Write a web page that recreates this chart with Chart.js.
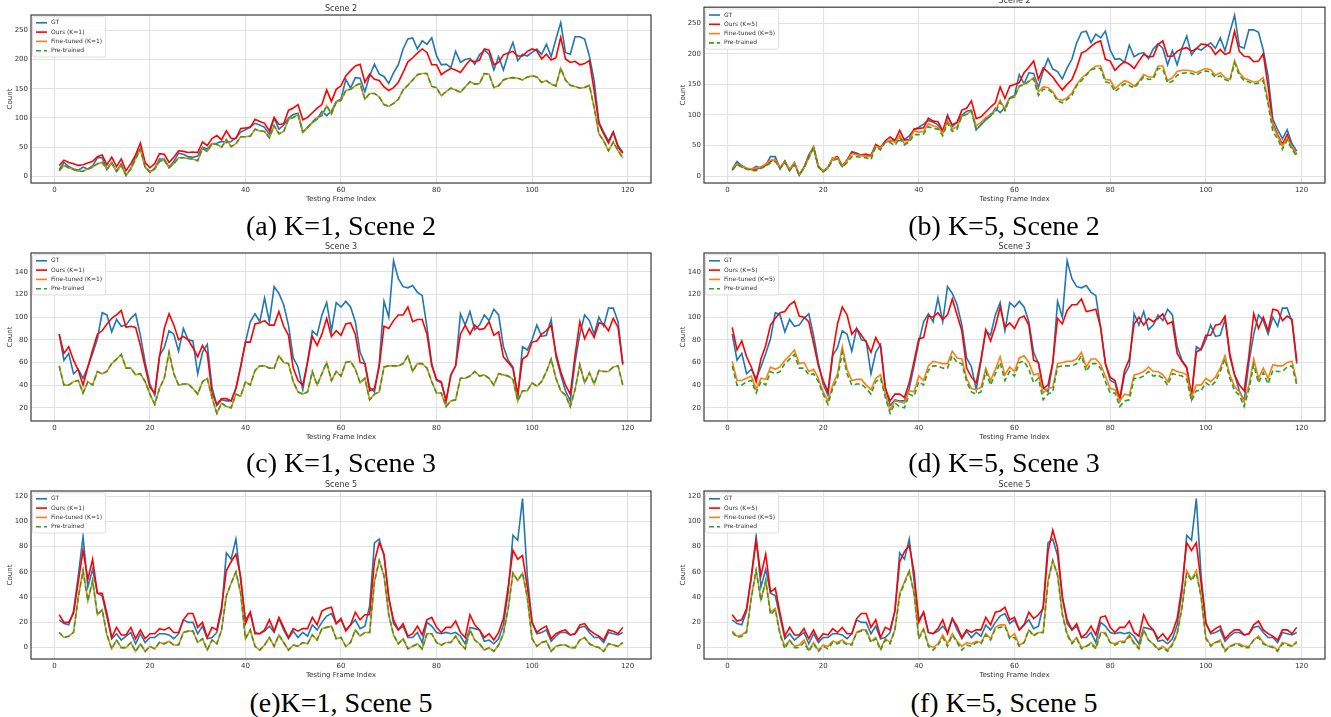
<!DOCTYPE html>
<html>
<head>
<meta charset="utf-8">
<script src="https://cdn.jsdelivr.net/npm/chart.js@4.4.1/dist/chart.umd.min.js"></script>
<style>
    body { margin: 0; width: 1331px; height: 717px; background: #fff; position: relative; overflow: hidden; }
    canvas { position: absolute; }
    .cap {
        position: absolute; transform: translate(-50%, -50%); white-space: nowrap;
        font-family: "Liberation Serif", "Times New Roman", serif; font-size: 28px; line-height: 1; color: #000;
    }
</style>
</head>
<body>
<canvas id="scene2-k1" width="660" height="205" style="left:0;top:0"></canvas>
<canvas id="scene2-k5" width="659" height="205" style="left:672px;top:0"></canvas>
<canvas id="scene3-k1" width="660" height="208" style="left:0;top:235px"></canvas>
<canvas id="scene3-k5" width="659" height="208" style="left:672px;top:235px"></canvas>
<canvas id="scene5-k1" width="660" height="206" style="left:0;top:475px"></canvas>
<canvas id="scene5-k5" width="659" height="206" style="left:672px;top:475px"></canvas>

<div class="cap" style="left:341px;top:226px">(a) K=1, Scene 2</div>
<div class="cap" style="left:1004px;top:226px">(b) K=5, Scene 2</div>
<div class="cap" style="left:341px;top:463px">(c) K=1, Scene 3</div>
<div class="cap" style="left:1004px;top:463px">(d) K=5, Scene 3</div>
<div class="cap" style="left:341px;top:703px">(e)K=1, Scene 5</div>
<div class="cap" style="left:1004px;top:703px">(f) K=5, Scene 5</div>

<script>
// testing frame index (x axis)
const frames = Array.from({ length: 119 }, (_, i) => i + 1);

// ---- Scene 2 ----
const gtScene2 = [12, 24, 17, 13, 11, 16, 13, 18, 32, 32,
    12, 24, 9, 22, 2, 14, 35, 48, 16, 8,
    14, 30, 30, 16, 26, 40, 38, 34, 33, 35,
    50, 47, 56, 57, 60, 58, 60, 66, 76, 80,
    85, 91, 88, 84, 72, 100, 81, 88, 100, 106,
    108, 76, 84, 92, 98, 111, 104, 112, 128, 132,
    166, 151, 169, 168, 145, 172, 192, 175, 171, 159,
    177, 191, 218, 235, 237, 218, 232, 226, 237, 206,
    191, 192, 186, 214, 195, 200, 202, 192, 208, 216,
    209, 182, 205, 182, 209, 229, 198, 209, 206, 212,
    218, 209, 226, 205, 235, 263, 212, 209, 239, 239,
    235, 206, 164, 93, 76, 61, 76, 53, 41];
const oursK1Scene2 = [19, 28, 24, 22, 19, 20, 23, 26, 34, 37,
    20, 33, 17, 30, 10, 22, 37, 57, 24, 15,
    22, 39, 38, 24, 33, 44, 43, 41, 42, 41,
    59, 53, 65, 70, 63, 78, 65, 65, 82, 83,
    84, 98, 94, 91, 78, 101, 89, 90, 113, 117,
    123, 97, 101, 109, 117, 123, 148, 128, 149, 155,
    172, 181, 189, 192, 161, 175, 166, 164, 153, 147,
    152, 161, 178, 196, 203, 211, 218, 212, 191, 191,
    174, 180, 185, 182, 178, 189, 199, 196, 199, 218,
    216, 191, 195, 208, 211, 214, 206, 206, 214, 218,
    215, 201, 209, 199, 203, 238, 201, 195, 197, 191,
    193, 198, 147, 90, 73, 57, 76, 50, 40];
const fineTunedK1Scene2 = [10, 19, 15, 12, 9, 9, 13, 16, 22, 24,
    13, 23, 9, 19, 2, 13, 30, 47, 16, 7,
    13, 26, 28, 15, 22, 32, 32, 31, 30, 27,
    48, 43, 56, 55, 50, 63, 51, 56, 68, 68,
    69, 81, 78, 77, 66, 87, 73, 77, 98, 101,
    106, 76, 84, 93, 101, 104, 121, 107, 127, 130,
    147, 149, 155, 159, 132, 142, 142, 136, 123, 120,
    125, 132, 148, 156, 165, 174, 176, 176, 154, 152,
    138, 145, 151, 148, 144, 153, 162, 158, 159, 176,
    175, 152, 155, 165, 168, 169, 168, 165, 170, 172,
    170, 161, 164, 158, 155, 185, 165, 156, 154, 151,
    152, 156, 118, 73, 61, 44, 59, 44, 32];
const preTrainedScene2 = [10, 19, 15, 12, 9, 9, 13, 16, 22, 24,
    13, 23, 9, 19, 2, 13, 30, 47, 16, 7,
    13, 26, 28, 15, 22, 32, 32, 31, 30, 27,
    48, 43, 56, 55, 50, 63, 51, 56, 68, 68,
    69, 81, 78, 77, 66, 87, 73, 77, 98, 101,
    106, 76, 84, 93, 101, 104, 121, 107, 127, 130,
    147, 149, 155, 159, 132, 142, 142, 136, 123, 120,
    125, 132, 148, 156, 165, 174, 176, 176, 154, 152,
    138, 145, 151, 148, 144, 153, 162, 158, 159, 176,
    175, 152, 155, 165, 168, 169, 168, 165, 170, 172,
    170, 161, 164, 158, 155, 185, 165, 156, 154, 151,
    152, 156, 118, 73, 61, 44, 59, 44, 32];
const oursK5Scene2 = [10, 20, 16, 12, 11, 11, 15, 18, 24, 28,
    13, 25, 10, 22, 2, 15, 32, 47, 15, 8,
    14, 30, 32, 17, 26, 39, 36, 35, 36, 33,
    52, 47, 58, 64, 58, 75, 59, 60, 77, 78,
    79, 95, 90, 89, 74, 98, 84, 88, 108, 111,
    123, 94, 97, 105, 113, 120, 146, 127, 147, 150,
    153, 169, 178, 188, 158, 177, 170, 162, 151, 141,
    150, 158, 177, 201, 205, 212, 218, 221, 191, 188,
    173, 181, 187, 183, 176, 188, 199, 195, 196, 215,
    221, 196, 196, 204, 208, 210, 204, 208, 216, 215,
    211, 199, 207, 199, 202, 237, 204, 196, 195, 187,
    188, 200, 147, 85, 68, 52, 68, 47, 36];
const fineTunedK5Scene2 = [13, 20, 16, 13, 12, 13, 15, 20, 26, 27,
    14, 24, 12, 22, 3, 14, 30, 48, 17, 9,
    14, 30, 30, 17, 25, 37, 35, 34, 33, 32,
    49, 46, 55, 59, 55, 67, 53, 59, 74, 72,
    73, 86, 82, 80, 70, 90, 77, 81, 98, 101,
    107, 82, 88, 96, 101, 107, 124, 109, 128, 129,
    147, 151, 155, 161, 138, 146, 145, 138, 126, 124,
    128, 136, 150, 160, 167, 174, 180, 180, 158, 157,
    143, 150, 156, 153, 147, 155, 166, 162, 162, 180,
    180, 156, 161, 171, 173, 173, 172, 169, 173, 176,
    174, 165, 169, 161, 158, 189, 169, 160, 157, 154,
    155, 161, 123, 82, 66, 49, 63, 47, 35];

// ---- Scene 3 ----
const gtScene3 = [85, 62, 68, 50, 54, 46, 56, 68, 81, 104,
    102, 87, 98, 92, 93, 99, 103, 84, 60, 41,
    31, 66, 73, 88, 85, 70, 90, 80, 79, 50,
    69, 76, 38, 22, 27, 26, 26, 37, 57, 78,
    96, 103, 96, 117, 96, 127, 121, 111, 93, 64,
    56, 36, 61, 88, 84, 102, 113, 88, 113, 109,
    114, 109, 96, 69, 59, 38, 34, 59, 114, 100,
    150, 134, 127, 126, 128, 122, 119, 91, 59, 44,
    42, 26, 49, 57, 103, 93, 105, 89, 93, 102,
    97, 107, 102, 74, 62, 56, 29, 74, 71, 80,
    93, 83, 84, 98, 65, 49, 35, 26, 60, 85,
    102, 97, 85, 100, 92, 108, 108, 96, 59];
const oursK1Scene3 = [85, 68, 74, 62, 53, 40, 56, 71, 85, 88,
    94, 99, 102, 106, 91, 92, 91, 75, 56, 38,
    33, 65, 90, 103, 93, 80, 83, 80, 73, 65,
    75, 68, 33, 23, 28, 28, 26, 37, 56, 78,
    78, 94, 95, 97, 93, 93, 105, 92, 84, 55,
    44, 40, 60, 83, 75, 85, 99, 83, 88, 84,
    94, 95, 85, 60, 59, 35, 37, 56, 92, 90,
    97, 102, 102, 109, 96, 98, 98, 85, 57, 45,
    43, 26, 49, 57, 85, 93, 85, 93, 89, 90,
    96, 84, 87, 65, 60, 55, 32, 63, 66, 78,
    79, 85, 88, 93, 68, 52, 40, 32, 66, 96,
    81, 90, 82, 95, 94, 88, 99, 91, 58];
const fineTunedK1Scene3 = [57, 40, 40, 43, 44, 33, 43, 40, 52, 50,
    52, 59, 63, 67, 55, 55, 49, 50, 43, 32,
    23, 37, 46, 69, 50, 40, 41, 41, 37, 32,
    43, 46, 29, 15, 24, 21, 20, 32, 30, 43,
    40, 53, 57, 57, 55, 55, 66, 60, 59, 43,
    34, 32, 34, 52, 40, 50, 60, 44, 52, 48,
    60, 61, 54, 42, 46, 27, 32, 34, 56, 57,
    57, 57, 59, 66, 52, 59, 59, 55, 43, 33,
    33, 21, 26, 27, 46, 46, 48, 52, 48, 49,
    46, 40, 50, 49, 48, 45, 26, 35, 35, 42,
    39, 43, 52, 63, 46, 35, 31, 21, 36, 58,
    42, 51, 41, 53, 52, 52, 56, 57, 40];
const preTrainedScene3 = [57, 40, 40, 43, 44, 33, 43, 40, 52, 50,
    52, 59, 63, 67, 55, 55, 49, 50, 43, 32,
    23, 37, 46, 69, 50, 40, 41, 41, 37, 32,
    43, 46, 29, 15, 24, 21, 20, 32, 30, 43,
    40, 53, 57, 57, 55, 55, 66, 60, 59, 43,
    34, 32, 34, 52, 40, 50, 60, 44, 52, 48,
    60, 61, 54, 42, 46, 27, 32, 34, 56, 57,
    57, 57, 59, 66, 52, 59, 59, 55, 43, 33,
    33, 21, 26, 27, 46, 46, 48, 52, 48, 49,
    46, 40, 50, 49, 48, 45, 26, 35, 35, 42,
    39, 43, 52, 63, 46, 35, 31, 21, 36, 58,
    42, 51, 41, 53, 52, 52, 56, 57, 40];
const oursK5Scene3 = [91, 71, 79, 65, 56, 43, 63, 75, 93, 99,
    104, 105, 111, 114, 101, 100, 96, 77, 57, 44,
    34, 68, 94, 109, 102, 85, 90, 84, 78, 69,
    82, 74, 37, 26, 32, 32, 29, 42, 61, 81,
    82, 101, 100, 104, 98, 102, 116, 102, 88, 55,
    47, 42, 63, 89, 79, 92, 109, 91, 95, 90,
    99, 101, 93, 62, 60, 37, 40, 60, 99, 94,
    106, 111, 111, 116, 105, 106, 107, 91, 59, 47,
    44, 28, 53, 63, 94, 100, 93, 99, 96, 99,
    103, 94, 96, 68, 61, 55, 31, 69, 72, 84,
    84, 93, 94, 101, 68, 49, 40, 35, 66, 103,
    90, 100, 88, 107, 106, 97, 101, 98, 61];
const fineTunedK5Scene3 = [61, 44, 44, 46, 48, 36, 46, 45, 56, 54,
    56, 62, 66, 71, 59, 60, 52, 54, 46, 34,
    26, 40, 50, 74, 54, 44, 45, 45, 40, 36,
    46, 49, 32, 18, 26, 25, 24, 35, 34, 48,
    44, 57, 61, 60, 59, 59, 70, 64, 63, 46,
    37, 36, 38, 55, 44, 54, 65, 49, 56, 52,
    64, 66, 60, 49, 50, 33, 37, 38, 59, 60,
    61, 61, 63, 69, 56, 63, 63, 58, 48, 37,
    36, 26, 32, 31, 49, 50, 52, 56, 52, 52,
    49, 43, 54, 52, 51, 49, 29, 40, 40, 46,
    43, 47, 55, 66, 49, 39, 34, 25, 40, 63,
    46, 55, 46, 58, 57, 57, 60, 61, 43];

// ---- Scene 5 ----
const gtScene5 = [22, 19, 18, 29, 57, 88, 48, 62, 43, 41,
    24, 7, 11, 6, 9, 12, 3, 11, 4, 8,
    8, 11, 11, 10, 7, 11, 22, 20, 20, 11,
    17, 7, 8, 12, 29, 75, 70, 86, 53, 22,
    28, 12, 11, 13, 17, 12, 23, 14, 7, 13,
    8, 12, 9, 18, 14, 20, 25, 27, 19, 22,
    14, 18, 22, 15, 17, 33, 83, 86, 73, 40,
    19, 14, 17, 8, 8, 12, 4, 20, 17, 12,
    11, 12, 11, 12, 9, 3, 16, 15, 14, 5,
    6, 3, 7, 18, 44, 89, 85, 118, 57, 20,
    11, 12, 14, 5, 9, 12, 12, 10, 11, 16,
    17, 12, 8, 8, 4, 12, 11, 10, 12];
const oursK1Scene5 = [26, 20, 20, 27, 52, 77, 54, 70, 43, 43,
    27, 8, 16, 10, 10, 16, 7, 14, 7, 11,
    11, 15, 14, 16, 12, 12, 22, 27, 27, 16,
    20, 8, 16, 14, 32, 61, 68, 74, 56, 19,
    28, 11, 11, 14, 22, 13, 24, 16, 8, 15,
    13, 15, 15, 24, 18, 29, 31, 32, 19, 23,
    13, 18, 28, 22, 26, 26, 68, 83, 74, 39,
    22, 14, 19, 9, 11, 17, 10, 22, 24, 16,
    12, 16, 16, 21, 12, 8, 26, 18, 14, 8,
    11, 6, 12, 23, 48, 77, 70, 73, 48, 20,
    12, 15, 17, 7, 11, 13, 14, 10, 11, 18,
    19, 14, 11, 9, 6, 14, 13, 11, 16];
const fineTunedK1Scene5 = [12, 8, 9, 12, 40, 61, 37, 53, 26, 30,
    10, -1, 6, 0, 0, 4, -3, 3, -3, 1,
    -1, 4, 3, 5, 2, 2, 12, 13, 13, 4,
    7, -2, 6, 3, 14, 41, 51, 60, 43, 7,
    14, 1, -2, 2, 8, 1, 10, 4, -2, 2,
    1, 4, 3, 10, 6, 15, 16, 17, 7, 8,
    1, 4, 14, 9, 12, 12, 52, 69, 57, 26,
    10, 3, 7, -1, 1, 3, -1, 11, 11, 4,
    2, 4, 4, 9, 3, -1, 14, 6, 3, -2,
    0, -3, 2, 11, 31, 59, 53, 59, 40, 7,
    1, 4, 5, -3, 1, 2, 2, 0, 0, 6,
    8, 3, 1, 0, -3, 3, 2, 1, 4];
const preTrainedScene5 = [12, 8, 9, 12, 40, 61, 37, 53, 26, 30,
    10, -1, 6, 0, 0, 4, -3, 3, -3, 1,
    -1, 4, 3, 5, 2, 2, 12, 13, 13, 4,
    7, -2, 6, 3, 14, 41, 51, 60, 43, 7,
    14, 1, -2, 2, 8, 1, 10, 4, -2, 2,
    1, 4, 3, 10, 6, 15, 16, 17, 7, 8,
    1, 4, 14, 9, 12, 12, 52, 69, 57, 26,
    10, 3, 7, -1, 1, 3, -1, 11, 11, 4,
    2, 4, 4, 9, 3, -1, 14, 6, 3, -2,
    0, -3, 2, 11, 31, 59, 53, 59, 40, 7,
    1, 4, 5, -3, 1, 2, 2, 0, 0, 6,
    8, 3, 1, 0, -3, 3, 2, 1, 4];
const oursK5Scene5 = [26, 21, 22, 31, 56, 85, 57, 74, 44, 47,
    27, 9, 16, 10, 10, 15, 7, 14, 6, 11,
    10, 15, 12, 16, 11, 11, 23, 27, 27, 16,
    22, 8, 16, 14, 29, 68, 76, 81, 60, 20,
    28, 12, 11, 15, 22, 11, 23, 17, 8, 14,
    12, 14, 14, 24, 18, 28, 29, 32, 22, 24,
    14, 18, 28, 23, 26, 31, 76, 93, 79, 40,
    22, 14, 19, 8, 11, 17, 10, 24, 25, 16,
    12, 16, 16, 21, 12, 9, 26, 18, 14, 7,
    11, 6, 12, 23, 48, 83, 77, 83, 51, 19,
    12, 15, 17, 7, 11, 14, 14, 10, 11, 18,
    21, 14, 11, 9, 6, 14, 14, 11, 16];
const fineTunedK5Scene5 = [13, 9, 10, 13, 40, 61, 38, 53, 28, 31,
    11, 1, 6, 1, 2, 6, -2, 4, -2, 2,
    1, 5, 4, 6, 3, 3, 12, 14, 14, 5,
    8, -1, 7, 4, 14, 43, 52, 61, 43, 8,
    15, 2, 0, 3, 10, 3, 11, 5, 1, 4,
    3, 5, 4, 11, 7, 16, 18, 18, 8, 11,
    2, 4, 14, 10, 12, 12, 53, 69, 58, 27,
    11, 4, 8, 0, 1, 4, 0, 12, 12, 4,
    3, 5, 5, 10, 4, 0, 14, 6, 3, -1,
    1, -2, 3, 11, 32, 61, 54, 61, 41, 8,
    2, 4, 6, -2, 1, 3, 3, 1, 1, 6,
    9, 4, 1, 1, -2, 4, 3, 1, 5];

const seriesColors = ['#1f77b4', '#ff0000', '#ff7f0e', '#2ca02c'];
const inkColor = '#333333';
Chart.defaults.font.family = '"DejaVu Sans", sans-serif';

const panels = [
    { id: 'scene2-k1', title: 'Scene 2', k: 1, step: 50, padTop: 15, yWidth: 31, padRight: 9,
      series: [gtScene2, oursK1Scene2, fineTunedK1Scene2, preTrainedScene2] },
    { id: 'scene2-k5', title: 'Scene 2', k: 5, step: 50, padTop: 7, yWidth: 32, padRight: 6,
      series: [gtScene2, oursK5Scene2, fineTunedK5Scene2, preTrainedScene2] },
    { id: 'scene3-k1', title: 'Scene 3', k: 1, step: 20, padTop: 18, yWidth: 31, padRight: 9,
      series: [gtScene3, oursK1Scene3, fineTunedK1Scene3, preTrainedScene3] },
    { id: 'scene3-k5', title: 'Scene 3', k: 5, step: 20, padTop: 18, yWidth: 32, padRight: 6,
      series: [gtScene3, oursK5Scene3, fineTunedK5Scene3, preTrainedScene3] },
    { id: 'scene5-k1', title: 'Scene 5', k: 1, step: 20, padTop: 16, yWidth: 31, padRight: 9,
      series: [gtScene5, oursK1Scene5, fineTunedK1Scene5, preTrainedScene5] },
    { id: 'scene5-k5', title: 'Scene 5', k: 5, step: 20, padTop: 16, yWidth: 32, padRight: 6,
      series: [gtScene5, oursK5Scene5, fineTunedK5Scene5, preTrainedScene5] }
];

// dark box round the plot area, like the matplotlib spines
const frameBox = {
    id: 'frameBox',
    afterDatasetsDraw(chart) {
        const { ctx, chartArea: a } = chart;
        ctx.save();
        ctx.strokeStyle = '#3a3a3a';
        ctx.lineWidth = 1.2;
        ctx.strokeRect(a.left, a.top, a.right - a.left, a.bottom - a.top);
        ctx.restore();
    }
};

// small title just above the plot area
const panelTitle = {
    id: 'panelTitle',
    afterDraw(chart, args, opts) {
        const { ctx, chartArea: a } = chart;
        ctx.save();
        ctx.font = '8px "DejaVu Sans"';
        ctx.fillStyle = inkColor;
        ctx.textAlign = 'center';
        ctx.textBaseline = 'bottom';
        ctx.fillText(opts.text, (a.left + a.right) / 2, a.top - 2);
        ctx.restore();
    }
};

// legend drawn inside the upper left corner
const cornerLegend = {
    id: 'cornerLegend',
    afterDraw(chart) {
        const { ctx, chartArea: a } = chart;
        const sets = chart.data.datasets;
        ctx.save();
        ctx.font = '6px "DejaVu Sans"';
        const textW = Math.max(...sets.map(d => ctx.measureText(d.label).width));
        const x = a.left + 1.5, y = a.top + 1.8;
        const rowH = 9.3;
        const w = textW + 22, h = rowH * sets.length + 3;
        ctx.fillStyle = 'rgba(255,255,255,0.85)';
        ctx.strokeStyle = '#d6d6d6';
        ctx.lineWidth = 0.8;
        ctx.beginPath();
        ctx.roundRect(x, y, w, h, 2);
        ctx.fill();
        ctx.stroke();
        sets.forEach((d, i) => {
            const cy = y + 6 + i * rowH;
            ctx.strokeStyle = d.borderColor;
            ctx.lineWidth = d.borderWidth;
            ctx.setLineDash(d.borderDash);
            ctx.beginPath();
            ctx.moveTo(x + 3.5, cy);
            ctx.lineTo(x + 14.5, cy);
            ctx.stroke();
            ctx.setLineDash([]);
            ctx.fillStyle = inkColor;
            ctx.textBaseline = 'middle';
            ctx.fillText(d.label, x + 18.5, cy);
        });
        ctx.restore();
    }
};

function makeChart(p) {
    const names = ['GT', `Ours (K=${p.k})`, `Fine-tuned (K=${p.k})`, 'Pre-trained'];
    const all = p.series.flat();
    const lo = Math.min(...all), hi = Math.max(...all);
    const yPad = (hi - lo) * 0.05;
    const xPad = (frames[frames.length - 1] - frames[0]) * 0.05;
    const tickFont = { size: 7, family: '"DejaVu Sans"' };

    return new Chart(document.getElementById(p.id), {
        type: 'line',
        data: {
            datasets: p.series.map((vals, i) => ({
                label: names[i],
                data: vals.map((v, j) => ({ x: frames[j], y: v })),
                borderColor: seriesColors[i],
                borderWidth: 1.6,
                borderDash: i === 3 ? [5, 3] : [],
                pointRadius: 0,
                tension: 0,
                order: 4 - i
            }))
        },
        options: {
            responsive: false,
            animation: false,
            devicePixelRatio: 1,
            layout: { padding: { top: p.padTop, right: p.padRight, left: 0, bottom: 0 } },
            plugins: {
                legend: { display: false },
                tooltip: { enabled: false },
                panelTitle: { text: p.title }
            },
            scales: {
                x: {
                    type: 'linear',
                    min: frames[0] - xPad,
                    max: frames[frames.length - 1] + xPad,
                    afterFit(s) { s.height = 22; },
                    border: { display: false },
                    grid: { color: '#e2e2e2', lineWidth: 1.1, drawTicks: false },
                    ticks: { stepSize: 20, includeBounds: false, padding: 3, maxRotation: 0, color: inkColor, font: tickFont },
                    title: { display: true, text: 'Testing Frame Index', color: inkColor, font: tickFont, padding: { top: 0, bottom: 2 } }
                },
                y: {
                    min: lo - yPad,
                    max: hi + yPad,
                    afterFit(s) { s.width = p.yWidth; },
                    border: { display: false },
                    grid: { color: '#e2e2e2', lineWidth: 1.1, drawTicks: false },
                    ticks: { stepSize: p.step, includeBounds: false, padding: 3, color: inkColor, font: tickFont },
                    title: { display: true, text: 'Count', color: inkColor, font: tickFont, padding: { top: p.yWidth - 25, bottom: 0 } }
                }
            }
        },
        plugins: [frameBox, cornerLegend, panelTitle]
    });
}

panels.forEach(makeChart);
</script>
</body>
</html>
